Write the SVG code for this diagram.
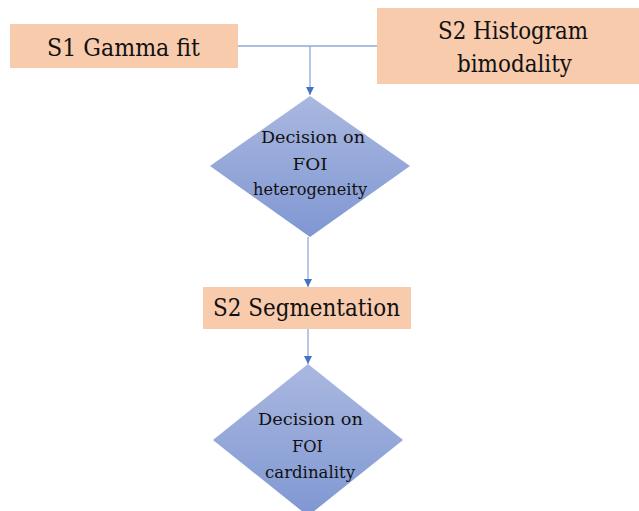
<svg xmlns="http://www.w3.org/2000/svg" width="639" height="511" viewBox="0 0 639 511">
<defs>
<linearGradient id="dg" x1="0" y1="0" x2="0" y2="1">
<stop offset="0" stop-color="#AAB8E0"/>
<stop offset="1" stop-color="#7F97D2"/>
</linearGradient>
<marker id="ah" viewBox="0 0 10 10" refX="10" refY="5" markerWidth="8" markerHeight="8" markerUnits="userSpaceOnUse" orient="auto">
<path d="M0,0 L10,5 L0,10 z" fill="#4472C4"/>
</marker>
<style>
.box{fill:#F8CBAD;}
.dia{fill:url(#dg);}
.big{font-family:"DejaVu Serif","Liberation Serif",serif;font-size:25px;fill:#111;text-anchor:middle;}
.sm{font-family:"DejaVu Serif","Liberation Serif",serif;font-size:17px;fill:#111;text-anchor:middle;}
.ln{stroke:#8FAADC;stroke-width:1.3;fill:none;}
</style>
</defs>
<rect width="639" height="511" fill="#fff"/>
<g id="connectors">
<path class="ln" d="M238,46 H377"/>
<path class="ln" d="M310,46 V95" marker-end="url(#ah)"/>
<path class="ln" d="M308,237 V287" marker-end="url(#ah)"/>
<path class="ln" d="M308,329 V364" marker-end="url(#ah)"/>
</g>
<g id="s1">
<rect class="box" x="10" y="24" width="228" height="44"/>
<text class="big" x="123.5" y="56" textLength="153" lengthAdjust="spacingAndGlyphs">S1 Gamma fit</text>
</g>
<g id="s2hist">
<rect class="box" x="377" y="8" width="262" height="76"/>
<text class="big" x="513" y="39" textLength="150" lengthAdjust="spacingAndGlyphs">S2 Histogram</text>
<text class="big" x="514.5" y="72" textLength="115" lengthAdjust="spacingAndGlyphs">bimodality</text>
</g>
<g id="dec1">
<polygon class="dia" points="310,96 410,166 310,237 210,166"/>
<text class="sm" x="313" y="143" textLength="104" lengthAdjust="spacingAndGlyphs">Decision on</text>
<text class="sm" x="310" y="170" textLength="35" lengthAdjust="spacingAndGlyphs">FOI</text>
<text class="sm" x="310" y="195" textLength="114" lengthAdjust="spacingAndGlyphs">heterogeneity</text>
</g>
<g id="seg">
<rect class="box" x="203" y="287" width="208" height="42"/>
<text class="big" x="306.5" y="316" textLength="187" lengthAdjust="spacingAndGlyphs">S2 Segmentation</text>
</g>
<g id="dec2">
<polygon class="dia" points="308,364 403,440 308,516 213,440"/>
<text class="sm" x="310.5" y="425" textLength="105" lengthAdjust="spacingAndGlyphs">Decision on</text>
<text class="sm" x="307.5" y="452" textLength="31" lengthAdjust="spacingAndGlyphs">FOI</text>
<text class="sm" x="310" y="478" textLength="90" lengthAdjust="spacingAndGlyphs">cardinality</text>
</g>
</svg>
